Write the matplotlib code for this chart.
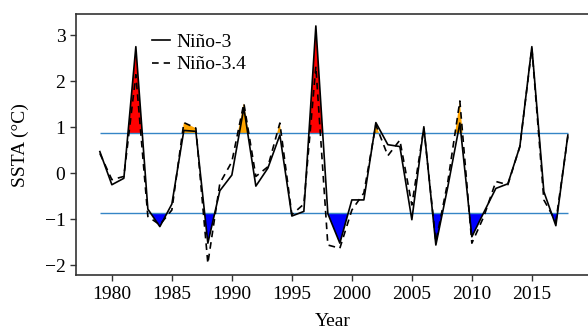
import numpy as np
import matplotlib
matplotlib.use("Agg")
import matplotlib.pyplot as plt

plt.rcParams['font.family'] = ['Liberation Serif', 'DejaVu Serif']

years = np.arange(1979, 2019)

# Nino-3 SSTA (solid)
nino3 = [0.47, -0.25, -0.11, 2.75, -0.78, -1.16, -0.67, 0.93, 0.91, -1.52,
         -0.38, -0.04, 1.42, -0.28, 0.11, 0.83, -0.93, -0.83, 3.20, -0.88,
         -1.52, -0.58, -0.58, 1.10, 0.62, 0.58, -1.01, 1.01, -1.56, -0.29,
         1.09, -1.38, -0.85, -0.33, -0.23, 0.58, 2.75, -0.40, -1.14, 0.83]

# Nino-3.4 SSTA (dashed)
nino34 = [0.43, -0.14, -0.07, 2.14, -0.94, -1.12, -0.80, 1.10, 0.98, -1.96,
          -0.22, 0.25, 1.52, -0.07, 0.14, 1.09, -0.90, -0.67, 2.32, -1.56,
          -1.63, -0.80, -0.43, 1.05, 0.38, 0.72, -0.69, 0.98, -1.49, -0.18,
          1.57, -1.52, -0.94, -0.18, -0.25, 0.58, 2.72, -0.58, -1.05, 0.80]

threshold = 0.87

# event years and which index is shaded
ep_years = [1982, 1997]                      # red, Nino-3
cp_years = [1986, 1991, 1994, 2002, 2009]    # orange, Nino-3.4
la_years = [1984, 1988, 1999, 2007, 2010, 2017]  # blue, Nino-3

fig = plt.figure(figsize=(5.88, 3.33), dpi=100)
ax = fig.add_axes([0.129, 0.173, 0.875, 0.785])

# fine grid only for shading between the line and the threshold
xf = np.linspace(years[0], years[-1], 4000)
n3f = np.interp(xf, years, nino3)
n34f = np.interp(xf, years, nino34)


def window(yrs):
    m = np.zeros(len(xf), dtype=bool)
    for y in yrs:
        m |= np.abs(xf - y) < 1
    return m


w = window(ep_years)
ax.fill_between(xf, threshold, n3f, where=w & (n3f > threshold),
                color='red', lw=0, zorder=1)
w = window(cp_years)
ax.fill_between(xf, threshold, n34f, where=w & (n34f > threshold),
                color='orange', lw=0, zorder=1)
w = window(la_years)
ax.fill_between(xf, -threshold, n3f, where=w & (n3f < -threshold),
                color='blue', lw=0, zorder=1)

ax.hlines([threshold, -threshold], years[0], years[-1], color='#3585c6', lw=1, zorder=2)

ax.plot(years, nino3, color='black', lw=1.2, label='Niño-3', zorder=3)
ax.plot(years, nino34, color='black', lw=1.2, ls=(0, (4, 3)), label='Niño-3.4', zorder=3)

ax.set_xlim(1977, 2019.875)
ax.set_ylim(-2.22, 3.46)
ax.set_xticks([1980, 1985, 1990, 1995, 2000, 2005, 2010, 2015])
ax.set_yticks([-2, -1, 0, 1, 2, 3])
ax.set_yticklabels(['\u22122', '\u22121', '0', '1', '2', '3'])
ax.tick_params(labelsize=14, direction='out', length=4, width=1, color='#333333')
for s in ax.spines.values():
    s.set_color('#333333')
    s.set_linewidth(1.2)

ax.set_xlabel('Year', fontsize=14, labelpad=7)
ax.set_ylabel('SSTA (°C)', fontsize=14, labelpad=11)

ax.legend(loc='upper left', bbox_to_anchor=(0.148, 0.926), frameon=False,
          fontsize=14, handlelength=0.95, handletextpad=0.3, labelspacing=0.25,
          borderpad=0, borderaxespad=0)

fig.savefig('out.png', dpi=100)
